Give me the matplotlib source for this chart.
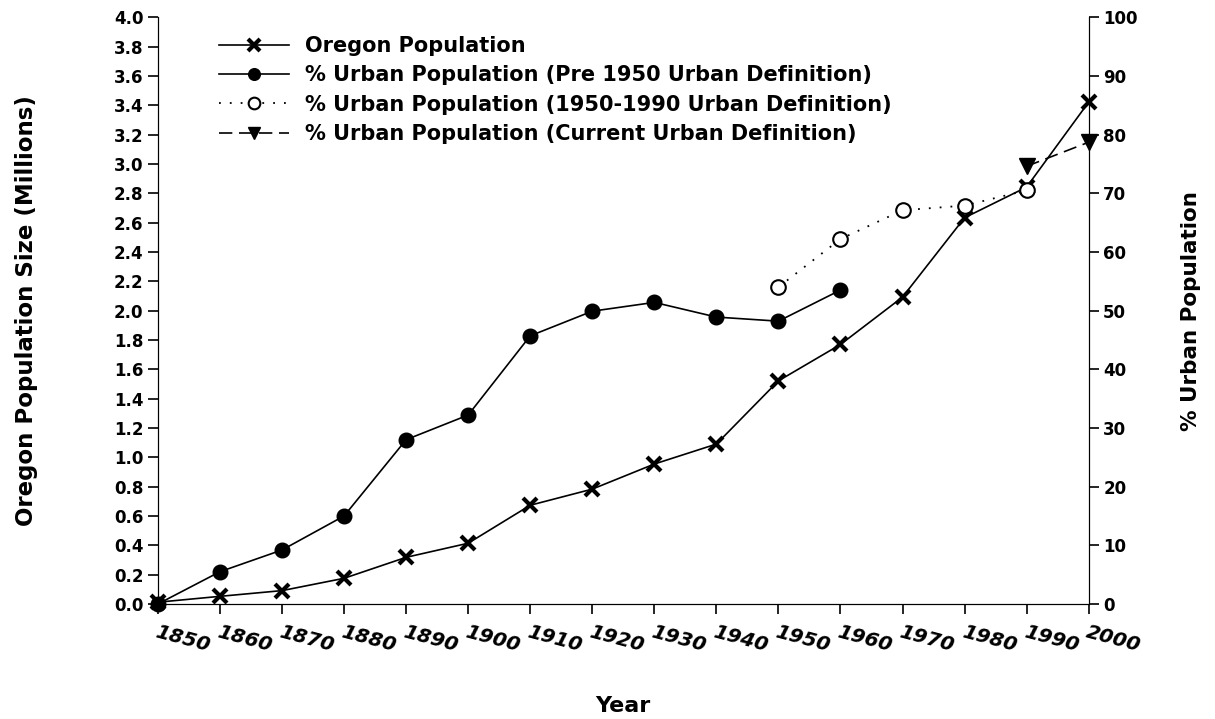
import matplotlib
matplotlib.use('Agg')
import matplotlib.pyplot as plt
import numpy as np

plt.rcParams['font.family'] = ['DejaVu Sans']
plt.rcParams['font.weight'] = 'bold'

# census years
years = [1850, 1860, 1870, 1880, 1890, 1900, 1910, 1920, 1930, 1940, 1950, 1960, 1970, 1980, 1990, 2000]
# Oregon population, millions
pop = [0.012, 0.052, 0.091, 0.175, 0.318, 0.414, 0.673, 0.783, 0.954, 1.090,
       1.521, 1.769, 2.092, 2.633, 2.842, 3.421]

# % urban, pre 1950 urban definition
pre_years = [1850, 1860, 1870, 1880, 1890, 1900, 1910, 1920, 1930, 1940, 1950, 1960]
pre_urban = [0.0, 5.5, 9.2, 15.0, 28.0, 32.2, 45.7, 49.9, 51.4, 48.9, 48.2, 53.5]

# % urban, 1950-1990 definition
mid_years = [1950, 1960, 1970, 1980, 1990]
mid_urban = [54.0, 62.2, 67.1, 67.9, 70.5]

# % urban, current definition
cur_years = [1990, 2000]
cur_urban = [74.6, 78.7]

fig = plt.figure(figsize=(12.15, 7.19), dpi=100)
ax = fig.add_axes([0.130, 0.160, 0.766, 0.816])
ax2 = ax.twinx()

l1, = ax.plot(years, pop, color='black', lw=1.2, marker='x', ms=10, mew=3, clip_on=False)
l2, = ax2.plot(pre_years, pre_urban, color='black', lw=1.2, marker='o', ms=10.5, clip_on=False)
l3, = ax2.plot(mid_years, mid_urban, color='black', lw=1.3, ls=(0, (1, 5)), marker='o', ms=10.5,
               mfc='white', mec='black', mew=1.5, clip_on=False)
l4, = ax2.plot(cur_years, cur_urban, color='black', lw=1.2, ls=(0, (8, 4)), marker='v', ms=11,
               clip_on=False)

ax.set_xlim(1850, 2000)
ax.set_ylim(0, 4.0)
ax2.set_ylim(0, 100)
ax.set_xticks(years)
ax.set_yticks(np.arange(0, 4.01, 0.2))
ax.set_yticklabels(['%.1f' % v for v in np.arange(0, 4.01, 0.2)], fontsize=12, fontweight='bold')
ax2.set_yticks(range(0, 101, 10))
ax2.set_yticklabels([str(v) for v in range(0, 101, 10)], fontsize=12, fontweight='bold')
ax.set_xticklabels([str(y) for y in years], fontsize=14.5, fontweight='bold', style='italic',
                   rotation=-15, ha='left', va='top', rotation_mode='anchor')

for a in (ax, ax2):
    a.spines['top'].set_visible(False)
    a.tick_params(direction='out', length=7, width=1.2)
ax.tick_params(axis='x', pad=6)

ax.set_ylabel('Oregon Population Size (Millions)', fontsize=16.5, fontweight='bold', va='center')
ax.yaxis.set_label_coords(-0.141, 0.5)
ax2.set_ylabel('% Urban Population', fontsize=15.5, fontweight='bold', va='center')
ax2.yaxis.set_label_coords(1.110, 0.5)
ax.set_xlabel('Year', fontsize=16, fontweight='bold', va='center')
ax.xaxis.set_label_coords(0.5, -0.174)

ax2.legend([l1, l2, l3, l4],
           ['Oregon Population',
            '% Urban Population (Pre 1950 Urban Definition)',
            '% Urban Population (1950-1990 Urban Definition)',
            '% Urban Population (Current Urban Definition)'],
           loc='upper left', bbox_to_anchor=(0.045, 1.0), frameon=False,
           prop={'size': 15, 'weight': 'bold'}, handlelength=3.4, handletextpad=0.75,
           labelspacing=0.45, markerscale=0.8)

fig.savefig('out.png', dpi=100)
